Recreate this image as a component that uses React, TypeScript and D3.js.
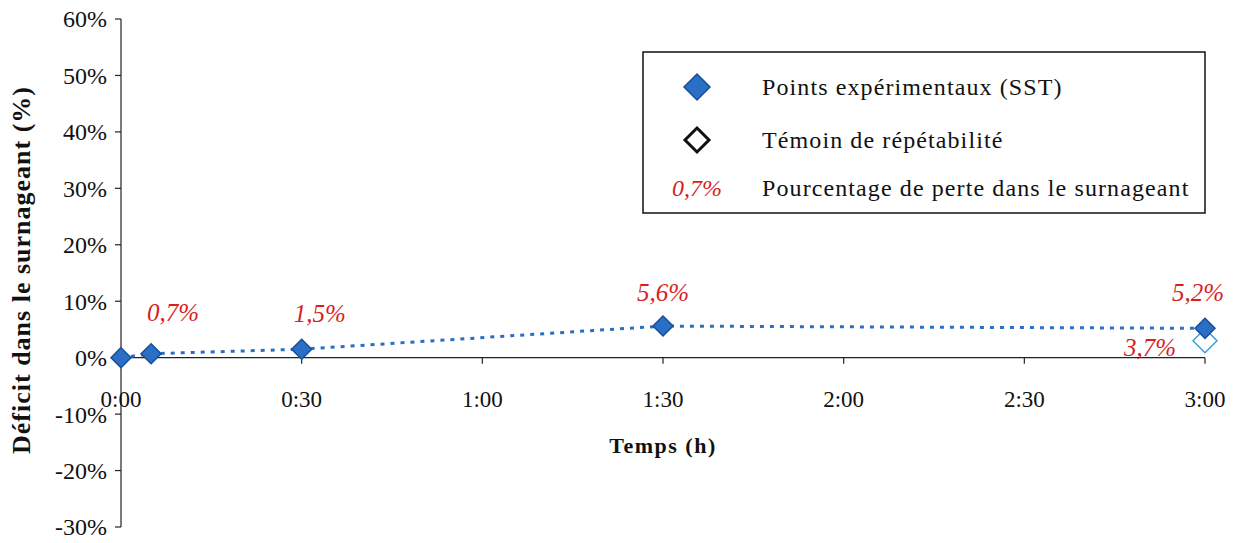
import React from "react";
import * as d3 from "d3";

const timesMin = [0, 5, 30, 90, 180];
const deficit = [0, 0.007, 0.015, 0.056, 0.052];
const pointLabels = ["", "0,7%", "1,5%", "5,6%", "5,2%"];
const temoinTime = [180];
const temoinValue = [0.037];
const temoinLabels = ["3,7%"];
const xTicks = [0, 30, 60, 90, 120, 150, 180];
const xTickLabels = ["0:00", "0:30", "1:00", "1:30", "2:00", "2:30", "3:00"];
const yTicks = [-0.3, -0.2, -0.1, 0, 0.1, 0.2, 0.3, 0.4, 0.5, 0.6];

const W = 1236;
const H = 543;
const font = "'Liberation Serif', 'Times New Roman', serif";
const blue = "#2a6fc4";
const blueDark = "#174f9a";
const red = "#d81e1e";

function diamond(cx: number, cy: number, r: number) {
  return `M${cx},${cy - r}L${cx + r},${cy}L${cx},${cy + r}L${cx - r},${cy}Z`;
}

export default function App() {
  const x = d3.scaleLinear().domain([0, 180]).range([121, 1205]);
  const y = d3.scaleLinear().domain([-0.3, 0.6]).range([527, 19]);
  const line = d3
    .line<number>()
    .x((_, i) => x(timesMin[i]))
    .y((d) => y(d));
  const pct = (v: number) => `${Math.round(v * 100)}%`;
  const labelOffsets = [
    [0, 0],
    [22, -33],
    [18, -27],
    [0, -25],
    [-7, -27],
  ];

  return (
    <svg
      width={W}
      height={H}
      style={{ position: "absolute", left: 0, top: 0, background: "#fff" }}
      fontFamily={font}
    >
      <rect width={W} height={H} fill="#fff" />
      {/* Y axis */}
      <line x1={x(0)} x2={x(0)} y1={y(0.6)} y2={y(-0.3)} stroke="#222" strokeWidth={1.2} />
      {yTicks.map((t) => (
        <g key={t}>
          <line x1={x(0) - 6} x2={x(0)} y1={y(t)} y2={y(t)} stroke="#222" strokeWidth={1.2} />
          <text
            x={x(0) - 14}
            y={y(t)}
            dy="0.35em"
            textAnchor="end"
            fontSize={24}
            fill="#111"
          >
            {pct(t)}
          </text>
        </g>
      ))}
      {/* X axis */}
      <line x1={x(0)} x2={x(180)} y1={y(0)} y2={y(0)} stroke="#222" strokeWidth={1.2} />
      {xTicks.map((t, i) => (
        <g key={t}>
          <line x1={x(t)} x2={x(t)} y1={y(0)} y2={y(0) + 6} stroke="#222" strokeWidth={1.2} />
          <text x={x(t)} y={407} textAnchor="middle" fontSize={23} fill="#111">
            {xTickLabels[i]}
          </text>
        </g>
      ))}
      <text
        x={x(90)}
        y={453}
        textAnchor="middle"
        fontSize={22}
        fontWeight="bold"
        letterSpacing={1.5}
        fill="#111"
      >
        Temps (h)
      </text>
      <text
        transform={`translate(30,270) rotate(-90)`}
        textAnchor="middle"
        fontSize={26}
        fontWeight="bold"
        letterSpacing={1}
        fill="#111"
      >
        Déficit dans le surnageant (%)
      </text>

      {/* line */}
      <path
        d={line(deficit) || ""}
        fill="none"
        stroke={blue}
        strokeWidth={3}
        strokeDasharray="4,6"
      />
      {/* temoin */}
      {temoinValue.map((v, i) => (
        <g key={"t" + i}>
          <path
            d={diamond(x(temoinTime[i]), y(v) + 4, 12)}
            fill="#fff"
            stroke="#3aa0e0"
            strokeWidth={1.5}
          />
          <text
            x={x(temoinTime[i]) - 55}
            y={y(v) + 19}
            textAnchor="middle"
            fontSize={25}
            fontStyle="italic"
            fill={red}
          >
            {temoinLabels[i]}
          </text>
        </g>
      ))}
      {/* points */}
      {deficit.map((v, i) => (
        <g key={i}>
          <path
            d={diamond(x(timesMin[i]), y(v), 10)}
            fill={blue}
            stroke={blueDark}
            strokeWidth={1.5}
          />
          {pointLabels[i] && (
            <text
              x={x(timesMin[i]) + labelOffsets[i][0]}
              y={y(v) + labelOffsets[i][1]}
              textAnchor="middle"
              fontSize={25}
              fontStyle="italic"
              fill={red}
            >
              {pointLabels[i]}
            </text>
          )}
        </g>
      ))}

      {/* legend */}
      <rect x={643} y={52} width={562} height={161} fill="#fff" stroke="#111" strokeWidth={1.5} />
      <path d={diamond(697, 87, 13)} fill={blue} stroke={blueDark} strokeWidth={1.5} />
      <text x={762} y={87} dy="0.35em" fontSize={24} letterSpacing={1.1} fill="#111">
        Points expérimentaux (SST)
      </text>
      <path d={diamond(697, 140, 12)} fill="#fff" stroke="#111" strokeWidth={3} />
      <text x={762} y={140} dy="0.35em" fontSize={24} letterSpacing={1.1} fill="#111">
        Témoin de répétabilité
      </text>
      <text x={697} y={188} dy="0.35em" textAnchor="middle" fontSize={24} fontStyle="italic" fill={red}>
        0,7%
      </text>
      <text x={762} y={188} dy="0.35em" fontSize={24} letterSpacing={1.1} fill="#111">
        Pourcentage de perte dans le surnageant
      </text>
    </svg>
  );
}
